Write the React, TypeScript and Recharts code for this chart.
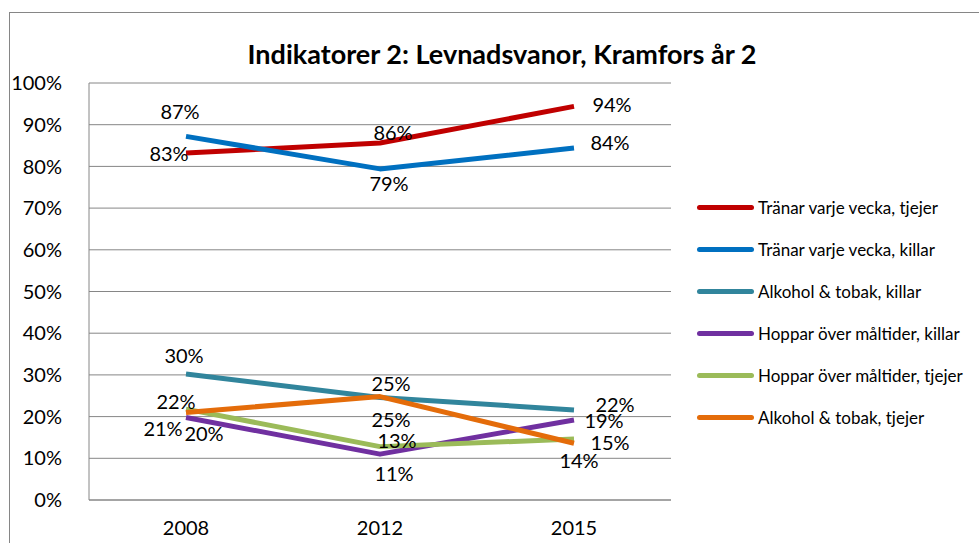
import { LineChart, Line, XAxis, YAxis, CartesianGrid, LabelList } from 'recharts';

const years = ['2008', '2012', '2015'];
const tranarTjejer = [83.2, 85.6, 94.4];
const tranarKillar = [87.2, 79.4, 84.4];
const alkoholKillar = [30.2, 24.6, 21.6];
const hopparKillar = [19.8, 11.0, 19.2];
const hopparTjejer = [21.8, 12.8, 14.6];
const alkoholTjejer = [21.0, 24.8, 13.6];
const yTicks = [0, 10, 20, 30, 40, 50, 60, 70, 80, 90, 100];

const data = years.map((year, i) => ({
  year,
  tt: tranarTjejer[i],
  tk: tranarKillar[i],
  ak: alkoholKillar[i],
  hk: hopparKillar[i],
  ht: hopparTjejer[i],
  at: alkoholTjejer[i],
}));

// label offsets (dx, dy of text centre from point), one per year
const series = [
  { key: 'tt', name: 'Tränar varje vecka, tjejer', color: '#C00000', offs: [[-17, 0], [13, -11], [38, -2]] },
  { key: 'tk', name: 'Tränar varje vecka, killar', color: '#0070C0', offs: [[-6, -25], [9, 14], [36, -6]] },
  { key: 'ak', name: 'Alkohol & tobak, killar', color: '#31859C', offs: [[-2, -19], [11, -14], [41, -6]] },
  { key: 'hk', name: 'Hoppar över måltider, killar', color: '#7030A0', offs: [[18, 16], [14, 19], [30, 0]] },
  { key: 'ht', name: 'Hoppar över måltider, tjejer', color: '#9BBB59', offs: [[-10, -8], [17, -7], [36, 3]] },
  { key: 'at', name: 'Alkohol & tobak, tjejer', color: '#E46C0A', offs: [[-23, 16], [11, 22], [5, 17]] },
];

const FONT = 'Lato, "Open Sans", sans-serif';

const makeLabel = (offs: number[][]) => (props: any) => {
  const { x, y, value, index } = props;
  const [dx, dy] = offs[index] || [0, 0];
  return (
    <text x={x + dx} y={y + dy} textAnchor="middle" dominantBaseline="central" fontSize={20} fontFamily={FONT} fill="#000">
      {Math.round(value)}%
    </text>
  );
};

const LegendBox = () => (
  <div style={{ position: 'absolute', left: 697, top: 186, fontFamily: FONT, fontSize: 17, color: '#000', whiteSpace: 'nowrap' }}>
    {series.map((s) => (
      <div key={s.key} style={{ height: 42, display: 'flex', alignItems: 'center' }}>
        <div style={{ width: 57, height: 5, borderRadius: 3, background: s.color, marginRight: 4 }} />
        <span>{s.name}</span>
      </div>
    ))}
  </div>
);

export default function App() {
  return (
    <div style={{ position: 'fixed', left: 0, top: 0, width: 979, height: 543, overflow: 'hidden', background: '#fff' }}>
      <div style={{ position: 'absolute', left: 9, top: 12, width: 1100, height: 700, border: '1px solid #868686' }} />
      <div style={{ position: 'absolute', left: 0, top: 37, width: 1004, textAlign: 'center', fontFamily: FONT, fontWeight: 700, fontSize: 27, color: '#000' }}>
        Indikatorer 2: Levnadsvanor, Kramfors år 2
      </div>
      <div style={{ position: 'absolute', left: 0, top: 0 }}>
        <LineChart width={979} height={543} data={data} margin={{ top: 83, right: 308, bottom: 13, left: 9 }}>
          <CartesianGrid vertical={false} stroke="#868686" strokeWidth={1} />
          <XAxis
            dataKey="year"
            height={30}
            padding={{ left: 97, right: 97 }}
            stroke="#868686"
            tickLine={false}
            tickSize={0}
            tickMargin={21}
            tick={{ fill: '#000', fontSize: 20, fontFamily: FONT }}
          />
          <YAxis
            width={80}
            domain={[0, 100]}
            ticks={yTicks}
            tickFormatter={(v) => `${v}%`}
            stroke="#868686"
            tickLine={false}
            tickSize={0}
            tickMargin={27}
            tick={{ fill: '#000', fontSize: 20, fontFamily: FONT }}
          />
          {series.map((s) => (
            <Line
              key={s.key}
              type="linear"
              dataKey={s.key}
              name={s.name}
              stroke={s.color}
              strokeWidth={5}
              strokeLinejoin="round"
              dot={false}
              activeDot={false}
              isAnimationActive={false}
            >
              <LabelList dataKey={s.key} content={makeLabel(s.offs)} />
            </Line>
          ))}
        </LineChart>
      </div>
      <LegendBox />
    </div>
  );
}
